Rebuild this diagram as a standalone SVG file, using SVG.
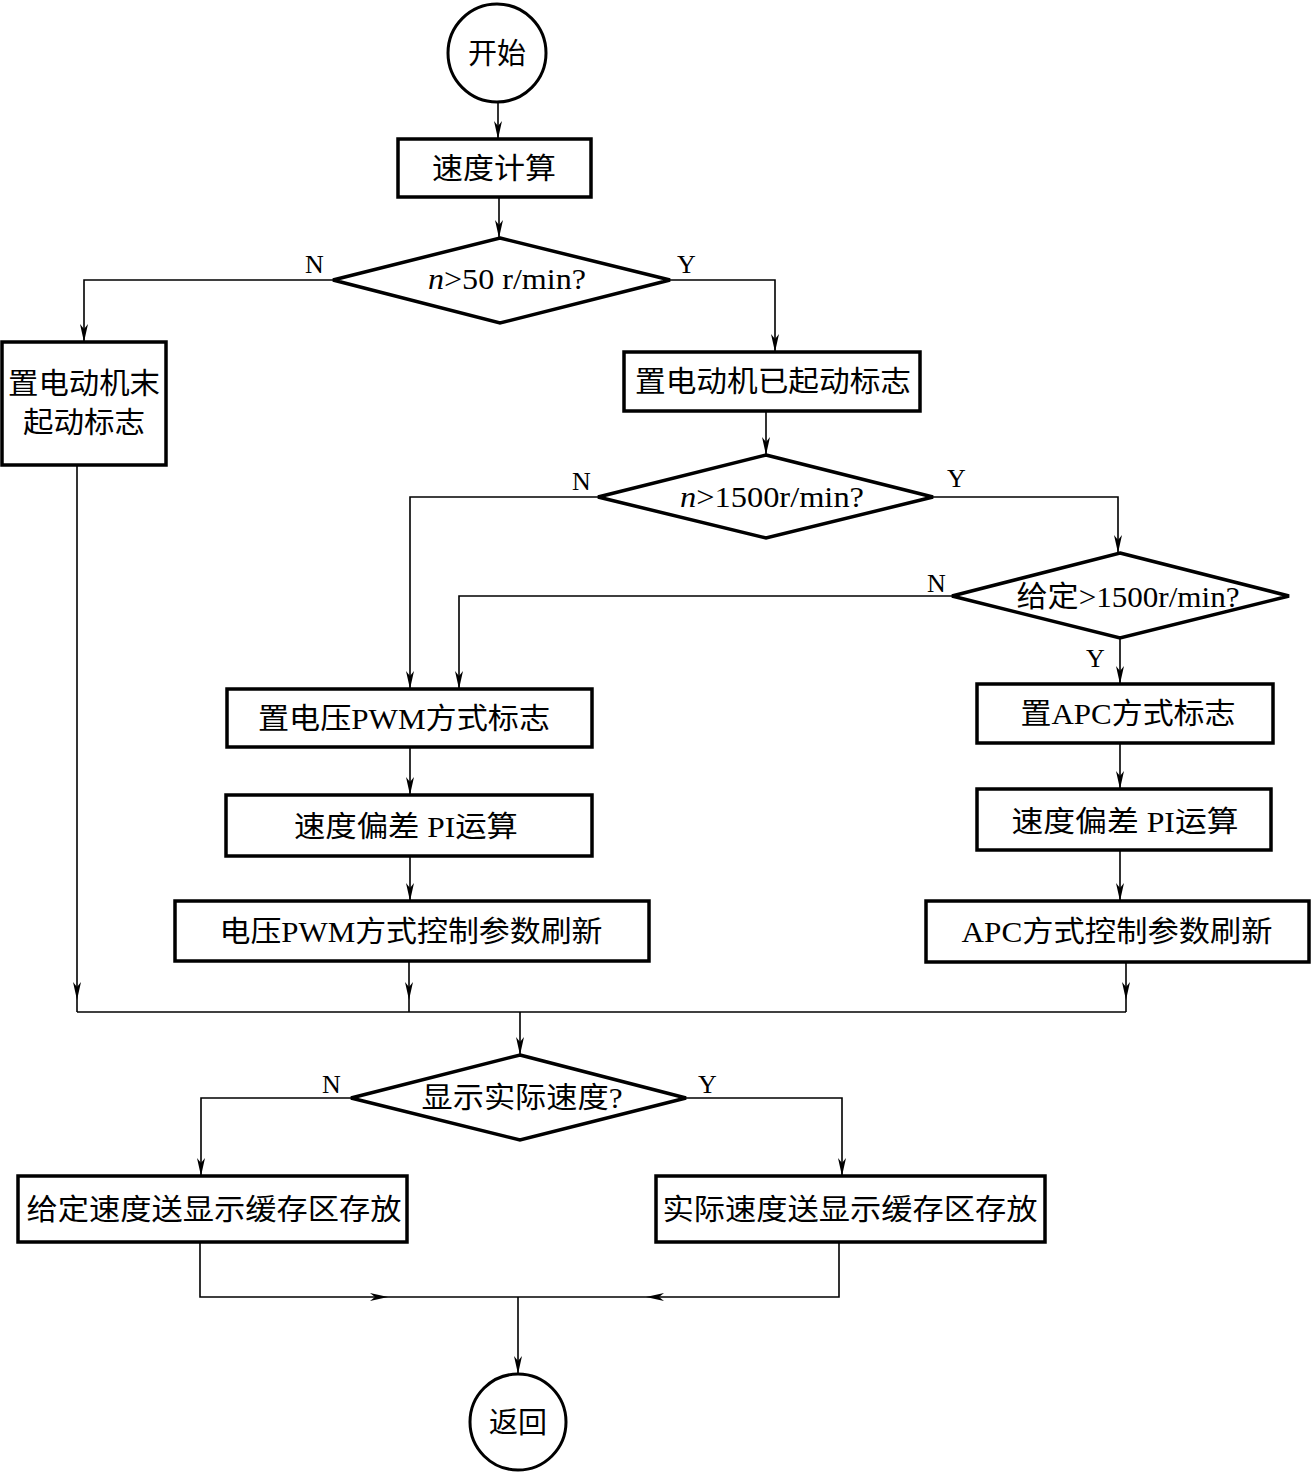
<svg xmlns="http://www.w3.org/2000/svg" width="1311" height="1474" viewBox="0 0 1311 1474">
<style>
.box{fill:#fff;stroke:#000;stroke-width:3.5}
.term{fill:#fff;stroke:#000;stroke-width:3}
.dia{fill:#fff;stroke:#000;stroke-width:3.5;stroke-linejoin:miter}
.c{fill:none;stroke:#000;stroke-width:1.6}
.t{font-family:"Liberation Serif","Noto Sans CJK SC",serif;font-size:29px;fill:#000;text-anchor:middle}
.l{font-family:"Liberation Serif",serif;font-size:26px;fill:#000}
</style>
<defs>
<marker id="ar" markerUnits="userSpaceOnUse" viewBox="-19 -5 20 10" markerWidth="20" markerHeight="10" refX="0" refY="0" orient="auto">
<path d="M0,0 L-18,-4 L-13,0 L-18,4 Z" fill="#000"/>
</marker>
</defs>
<g id="connectors">
<path class="c" d="M498,102 V139" marker-end="url(#ar)"/>
<path class="c" d="M499,197 V238" marker-end="url(#ar)"/>
<path class="c" d="M333,280 H84 V342" marker-end="url(#ar)"/>
<path class="c" d="M670,280 H775 V352" marker-end="url(#ar)"/>
<path class="c" d="M766,411 V455" marker-end="url(#ar)"/>
<path class="c" d="M598,497 H410 V689" marker-end="url(#ar)"/>
<path class="c" d="M933,497 H1118 V553" marker-end="url(#ar)"/>
<path class="c" d="M952,596 H459 V689" marker-end="url(#ar)"/>
<path class="c" d="M1120,638 V684" marker-end="url(#ar)"/>
<path class="c" d="M410,747 V795" marker-end="url(#ar)"/>
<path class="c" d="M1120,743 V789" marker-end="url(#ar)"/>
<path class="c" d="M410,856 V901" marker-end="url(#ar)"/>
<path class="c" d="M1120,850 V901" marker-end="url(#ar)"/>
<path class="c" d="M77,465 V1000" marker-end="url(#ar)"/>
<path class="c" d="M77,1000 V1012"/>
<path class="c" d="M409,961 V1000" marker-end="url(#ar)"/>
<path class="c" d="M409,1000 V1012"/>
<path class="c" d="M1126,962 V1000" marker-end="url(#ar)"/>
<path class="c" d="M1126,1000 V1012"/>
<path class="c" d="M77,1012 H1126"/>
<path class="c" d="M520,1012 V1055" marker-end="url(#ar)"/>
<path class="c" d="M351,1098 H201 V1176" marker-end="url(#ar)"/>
<path class="c" d="M686,1098 H842 V1176" marker-end="url(#ar)"/>
<path class="c" d="M200,1242 V1297 H388" marker-end="url(#ar)"/>
<path class="c" d="M388,1297 H518"/>
<path class="c" d="M839,1242 V1297 H646" marker-end="url(#ar)"/>
<path class="c" d="M646,1297 H518"/>
<path class="c" d="M518,1297 V1374" marker-end="url(#ar)"/>
</g>
<g id="start">
<circle class="term" cx="497" cy="53" r="49"/>
<text class="t" x="497" y="64">开始</text>
</g>
<g id="speed-calc">
<rect class="box" x="398" y="139" width="193" height="58"/>
<text class="t" x="494" y="179" textLength="124" lengthAdjust="spacingAndGlyphs">速度计算</text>
</g>
<g id="dec1">
<polygon class="dia" points="500,238 670,280 500,323 333,280"/>
<text class="t" x="507" y="289" textLength="158" lengthAdjust="spacingAndGlyphs"><tspan font-style="italic">n</tspan>&gt;50 r/min?</text>
<text class="l" x="305" y="273">N</text>
<text class="l" x="677" y="273">Y</text>
</g>
<g id="not-started">
<rect class="box" x="2" y="342" width="164" height="123"/>
<text class="t" x="84" y="394" textLength="152" lengthAdjust="spacingAndGlyphs">置电动机末</text>
<text class="t" x="84" y="433" textLength="122" lengthAdjust="spacingAndGlyphs">起动标志</text>
</g>
<g id="started">
<rect class="box" x="624" y="352" width="296" height="59"/>
<text class="t" x="773" y="392" textLength="276" lengthAdjust="spacingAndGlyphs">置电动机已起动标志</text>
</g>
<g id="dec2">
<polygon class="dia" points="766,455 933,497 766,538 598,497"/>
<text class="t" x="772" y="507" textLength="184" lengthAdjust="spacingAndGlyphs"><tspan font-style="italic">n</tspan>&gt;1500r/min?</text>
<text class="l" x="572" y="490">N</text>
<text class="l" x="947" y="487">Y</text>
</g>
<g id="dec3">
<polygon class="dia" points="1120,553 1289,596 1120,638 952,596"/>
<text class="t" x="1128" y="607" textLength="223" lengthAdjust="spacingAndGlyphs">给定&gt;1500r/min?</text>
<text class="l" x="927" y="592">N</text>
<text class="l" x="1086" y="667">Y</text>
</g>
<g id="pwm-flag">
<rect class="box" x="227" y="689" width="365" height="58"/>
<text class="t" x="404" y="729" textLength="292" lengthAdjust="spacingAndGlyphs">置电压PWM方式标志</text>
</g>
<g id="apc-flag">
<rect class="box" x="977" y="684" width="296" height="59"/>
<text class="t" x="1128" y="724" textLength="215" lengthAdjust="spacingAndGlyphs">置APC方式标志</text>
</g>
<g id="pi-left">
<rect class="box" x="226" y="795" width="366" height="61"/>
<text class="t" x="406" y="837" textLength="224" lengthAdjust="spacingAndGlyphs">速度偏差 PI运算</text>
</g>
<g id="pi-right">
<rect class="box" x="977" y="789" width="294" height="61"/>
<text class="t" x="1125" y="832" textLength="227" lengthAdjust="spacingAndGlyphs">速度偏差 PI运算</text>
</g>
<g id="pwm-refresh">
<rect class="box" x="175" y="901" width="474" height="60"/>
<text class="t" x="411" y="942" textLength="383" lengthAdjust="spacingAndGlyphs">电压PWM方式控制参数刷新</text>
</g>
<g id="apc-refresh">
<rect class="box" x="926" y="901" width="383" height="61"/>
<text class="t" x="1117" y="942" textLength="311" lengthAdjust="spacingAndGlyphs">APC方式控制参数刷新</text>
</g>
<g id="dec4">
<polygon class="dia" points="520,1055 686,1098 520,1140 351,1098"/>
<text class="t" x="522" y="1108" textLength="201" lengthAdjust="spacingAndGlyphs">显示实际速度?</text>
<text class="l" x="322" y="1093">N</text>
<text class="l" x="698" y="1093">Y</text>
</g>
<g id="show-set">
<rect class="box" x="18" y="1176" width="389" height="66"/>
<text class="t" x="214" y="1220" textLength="375" lengthAdjust="spacingAndGlyphs">给定速度送显示缓存区存放</text>
</g>
<g id="show-actual">
<rect class="box" x="656" y="1176" width="389" height="66"/>
<text class="t" x="850" y="1220" textLength="375" lengthAdjust="spacingAndGlyphs">实际速度送显示缓存区存放</text>
</g>
<g id="return">
<circle class="term" cx="518" cy="1422" r="48"/>
<text class="t" x="518" y="1433">返回</text>
</g>
</svg>
